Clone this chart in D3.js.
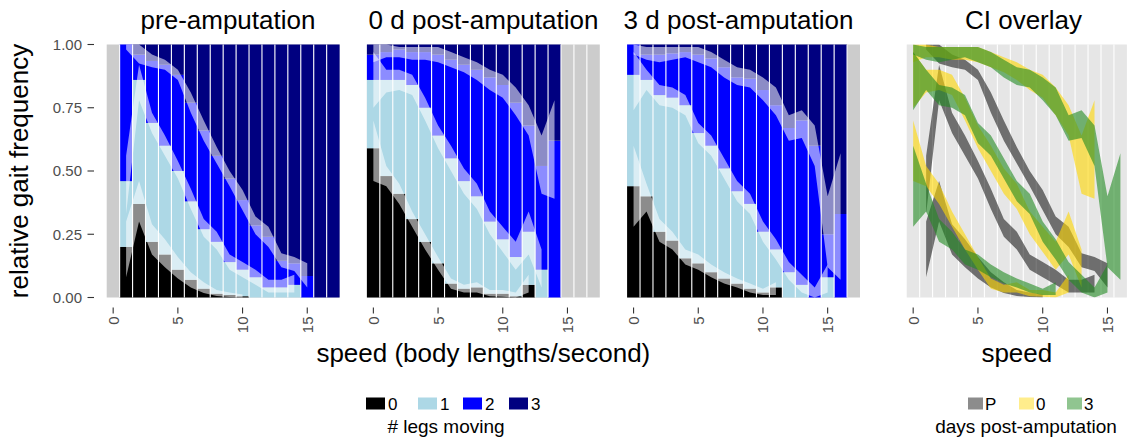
<!DOCTYPE html>
<html>
<head>
<meta charset="utf-8">
<script src="https://cdn.jsdelivr.net/npm/d3@7"></script>
<style>
  body { margin: 0; background: #fff; }
  svg { display: block; font-family: "Liberation Sans", Arial, Helvetica, sans-serif; }
</style>
</head>
<body>
<div id="chart"></div>
<script>
// ---- data ----
var speedBins = [0, 1, 2, 3, 4, 5, 6, 7, 8, 9, 10, 11, 12, 13, 14, 15, 16, 17];
var panelTitles = ["pre-amputation", "0 d post-amputation", "3 d post-amputation", "CI overlay"];
var legLabels = ["0", "1", "2", "3"];
var legColors = ["#000000", "#add8e6", "#0000ff", "#000080"];
var dayLabels = ["P", "0", "3"];
var dayColors = ["#000000", "#ffd700", "#228b22"];
var yTicks = [0, 0.25, 0.5, 0.75, 1];
var xTicks = [0, 5, 10, 15];

// share of strides with at most n legs moving (cumulative), per speed bin
var pre_le0 = [null, .20, .37, .22, .17, .11, .07, .035, .015, .01, .005, 0, 0, 0, 0, 0, 0, 0];
var pre_le1 = [null, .46, .86, .69, .60, .50, .38, .27, .22, .14, .11, .08, .04, .04, .05, 0, 0, 0];
var pre_le2 = [null, 1, .96, .935, .92, .88, .77, .66, .56, .47, .385, .285, .24, .145, .135, .085, 0, 0];
var pre_le0_lo = [null, .08, .30, .17, .12, .075, .04, .018, .006, .002, 0, null, null, null, null, null, null, null];
var pre_le0_hi = [null, .30, .46, .29, .23, .16, .10, .06, .03, .02, .012, null, null, null, null, null, null, null];
var pre_le1_lo = [null, .33, .78, .65, .56, .47, .35, .24, .19, .11, .08, .05, .02, .02, .02, null, null, null];
var pre_le1_hi = [null, .56, .92, .73, .64, .54, .43, .31, .26, .17, .14, .11, .07, .07, .09, null, null, null];
var pre_le2_lo = [null, .98, .925, .91, .90, .86, .73, .62, .53, .44, .345, .25, .20, .12, .105, .04, null, null];
var pre_le2_hi = [null, 1, 1, .96, .94, .90, .81, .70, .595, .50, .425, .32, .28, .175, .16, .135, null, null];

var d0_le0 = [.59, .48, .41, .31, .22, .135, .055, .035, .04, .015, .015, .005, .05, 0, 0, null, null, null];
var d0_le1 = [.86, .86, .86, .84, .75, .64, .55, .46, .40, .30, .23, .16, .26, .11, 0, null, null, null];
var d0_le2 = [.96, .97, .98, .97, .97, .96, .94, .92, .90, .87, .84, .77, .68, .52, .62, null, null, null];
var d0_le0_lo = [.46, .44, .37, .28, .19, .11, .035, .02, .02, .005, .003, 0, .02, null, null, null, null, null];
var d0_le0_hi = [.70, .52, .45, .34, .25, .16, .075, .05, .06, .03, .03, .02, .09, null, null, null, null, null];
var d0_le1_lo = [.75, .81, .82, .80, .70, .59, .50, .41, .35, .25, .18, .11, .17, .04, null, null, null, null];
var d0_le1_hi = [.97, .90, .90, .88, .79, .68, .60, .51, .45, .34, .28, .22, .34, .19, null, null, null, null];
var d0_le2_lo = [.93, .95, .95, .94, .94, .93, .91, .89, .86, .82, .79, .72, .64, .41, .39, null, null, null];
var d0_le2_hi = [1, 1, .99, .99, .99, .99, .97, .95, .93, .90, .88, .83, .76, .64, .78, null, null, null];

var d3_le0 = [.44, .40, .26, .225, .155, .135, .10, .075, .055, .035, .02, .04, 0, 0, 0, 0, 0, null];
var d3_le1 = [.88, .86, .80, .79, .76, .65, .60, .51, .42, .37, .26, .19, .10, .05, 0, .08, 0, null];
var d3_le2 = [1, .96, .96, .965, .97, .96, .945, .91, .87, .865, .82, .76, .67, .70, .60, .25, .33, null];
var d3_le0_lo = [.28, .34, .22, .19, .13, .11, .08, .055, .04, .02, .01, .01, null, null, null, null, null, null];
var d3_le0_hi = [.60, .45, .31, .26, .19, .17, .13, .10, .075, .055, .035, .06, null, null, null, null, null, null];
var d3_le1_lo = [.74, .82, .76, .75, .72, .61, .56, .47, .38, .33, .22, .15, .07, .02, 0, .02, null, null];
var d3_le1_hi = [.97, .90, .84, .83, .80, .69, .64, .55, .46, .41, .30, .23, .14, .09, .04, .13, null, null];
var d3_le2_lo = [.96, .94, .93, .94, .95, .93, .91, .87, .84, .83, .78, .72, .62, .63, .52, .12, .07, null];
var d3_le2_hi = [1, .99, .99, .99, .99, .99, .97, .94, .91, .90, .87, .83, .72, .74, .68, .40, .57, null];

var conditions = [
  { le: [pre_le0, pre_le1, pre_le2], lo: [pre_le0_lo, pre_le1_lo, pre_le2_lo], hi: [pre_le0_hi, pre_le1_hi, pre_le2_hi] },
  { le: [d0_le0, d0_le1, d0_le2], lo: [d0_le0_lo, d0_le1_lo, d0_le2_lo], hi: [d0_le0_hi, d0_le1_hi, d0_le2_hi] },
  { le: [d3_le0, d3_le1, d3_le2], lo: [d3_le0_lo, d3_le1_lo, d3_le2_lo], hi: [d3_le0_hi, d3_le1_hi, d3_le2_hi] }
];

// ---- layout ----
var W = 1130, H = 445;
var panelTop = 44.5, panelBottom = 297.5;
var panels = [
  { x0: 106.7, x1: 339.6, dom: [-0.5, 17.5], titleX: 228 },
  { x0: 366.9, x1: 599.8, dom: [-0.5, 17.5], titleX: 483.5 },
  { x0: 627.1, x1: 860.0, dom: [-0.5, 17.5], titleX: 738.5 },
  { x0: 906.7, x1: 1126.9, dom: [-0.5, 16.5], titleX: 1023.5 }
];
var greyBg = "#cccccc", overlayBg = "#e6e6e6";

var svg = d3.select("#chart").append("svg").attr("width", W).attr("height", H);

var y = d3.scaleLinear().domain([0, 1]).range([panelBottom, panelTop]);

function ribbonData(lo, hi) {
  return speedBins.map(function(k) { return { k: k, lo: lo[k], hi: hi[k] }; });
}

function drawGrid(g, x, dom) {
  var lines = d3.range(dom[0] + 1, dom[1], 1);
  g.selectAll("line.grid").data(lines).enter().append("line")
    .attr("class", "grid")
    .attr("x1", function(d) { return x(d); }).attr("x2", function(d) { return x(d); })
    .attr("y1", panelTop).attr("y2", panelBottom)
    .attr("stroke", "#fff").attr("stroke-width", 1.1);
}

function drawXAxis(g, x) {
  g.selectAll("line.xt").data(xTicks).enter().append("line")
    .attr("x1", function(d) { return x(d); }).attr("x2", function(d) { return x(d); })
    .attr("y1", 307.5).attr("y2", 313.5)
    .attr("stroke", "#333").attr("stroke-width", 1.1);
  g.selectAll("text.xt").data(xTicks).enter().append("text")
    .attr("transform", function(d) { return "translate(" + x(d) + ",316.5) rotate(-90)"; })
    .attr("text-anchor", "end").attr("dominant-baseline", "central")
    .attr("font-size", 15).attr("fill", "#4d4d4d")
    .text(function(d) { return d; });
}

// ---- stacked bar panels ----
conditions.forEach(function(cond, pi) {
  var p = panels[pi];
  var x = d3.scaleLinear().domain(p.dom).range([p.x0, p.x1]);
  var g = svg.append("g");

  g.append("rect").attr("x", p.x0).attr("y", panelTop)
    .attr("width", p.x1 - p.x0).attr("height", panelBottom - panelTop)
    .attr("fill", greyBg);

  var segs = [];
  speedBins.forEach(function(k) {
    if (cond.le[0][k] == null) return;
    var cuts = [0, cond.le[0][k], cond.le[1][k], cond.le[2][k], 1];
    for (var s = 0; s < 4; s++) {
      segs.push({ k: k, s: s, a: cuts[s], b: cuts[s + 1] });
    }
  });
  g.selectAll("rect.bar").data(segs).enter().append("rect")
    .attr("class", "bar")
    .attr("x", function(d) { return x(d.k - 0.5); })
    .attr("width", function(d) { return x(d.k + 0.5) - x(d.k - 0.5); })
    .attr("y", function(d) { return y(d.b); })
    .attr("height", function(d) { return Math.max(0, y(d.a) - y(d.b)); })
    .attr("fill", function(d) { return legColors[d.s]; });

  drawGrid(g, x, p.dom);

  var area = d3.area()
    .defined(function(d) { return d.lo != null && d.hi != null; })
    .x(function(d) { return x(d.k); })
    .y0(function(d) { return y(d.lo); })
    .y1(function(d) { return y(d.hi); });
  for (var b = 0; b < 3; b++) {
    g.append("path").datum(ribbonData(cond.lo[b], cond.hi[b]))
      .attr("d", area).attr("fill", "#fff").attr("fill-opacity", 0.55);
  }

  drawXAxis(g, x);
});

// ---- CI overlay panel ----
(function() {
  var p = panels[3];
  var x = d3.scaleLinear().domain(p.dom).range([p.x0, p.x1]);
  var g = svg.append("g");
  g.append("rect").attr("x", p.x0).attr("y", panelTop)
    .attr("width", p.x1 - p.x0).attr("height", panelBottom - panelTop)
    .attr("fill", overlayBg);
  drawGrid(g, x, p.dom);

  var clipId = "clipOverlay";
  svg.append("clipPath").attr("id", clipId).append("rect")
    .attr("x", p.x0).attr("y", panelTop)
    .attr("width", p.x1 - p.x0).attr("height", panelBottom - panelTop);

  var area = d3.area()
    .defined(function(d) { return d.lo != null && d.hi != null; })
    .x(function(d) { return x(d.k); })
    .y0(function(d) { return y(d.lo); })
    .y1(function(d) { return y(d.hi); });
  var alphas = [0.52, 0.6, 0.6];
  conditions.forEach(function(cond, ci) {
    for (var b = 0; b < 3; b++) {
      g.append("path").datum(ribbonData(cond.lo[b], cond.hi[b]))
        .attr("clip-path", "url(#" + clipId + ")")
        .attr("d", area).attr("fill", dayColors[ci]).attr("fill-opacity", alphas[ci]);
    }
  });
  drawXAxis(g, x);
})();

// ---- y axis ----
svg.selectAll("line.yt").data(yTicks).enter().append("line")
  .attr("x1", 87.5).attr("x2", 94)
  .attr("y1", function(d) { return y(d); }).attr("y2", function(d) { return y(d); })
  .attr("stroke", "#333").attr("stroke-width", 1.1);
svg.selectAll("text.yt").data(yTicks).enter().append("text")
  .attr("x", 82).attr("y", function(d) { return y(d); })
  .attr("dy", "0.35em").attr("text-anchor", "end")
  .attr("font-size", 15).attr("fill", "#4d4d4d")
  .text(function(d) { return d3.format(".2f")(d); });

// ---- titles ----
svg.selectAll("text.ptitle").data(panels).enter().append("text")
  .attr("x", function(d) { return d.titleX; }).attr("y", 29)
  .attr("text-anchor", "middle").attr("font-size", 26).attr("fill", "#000")
  .text(function(d, i) { return panelTitles[i]; });

svg.append("text")
  .attr("transform", "translate(28," + ((panelTop + panelBottom) / 2) + ") rotate(-90)")
  .attr("text-anchor", "middle").attr("font-size", 26)
  .text("relative gait frequency");
svg.append("text").attr("x", (panels[0].x0 + panels[2].x1) / 2).attr("y", 362)
  .attr("text-anchor", "middle").attr("font-size", 26)
  .text("speed (body lengths/second)");
svg.append("text").attr("x", (panels[3].x0 + panels[3].x1) / 2).attr("y", 362)
  .attr("text-anchor", "middle").attr("font-size", 26)
  .text("speed");

// ---- legends ----
var leg1X = [366, 418, 463, 509];
var l1 = svg.append("g");
l1.selectAll("rect").data(legLabels).enter().append("rect")
  .attr("x", function(d, i) { return leg1X[i]; }).attr("y", 397.5)
  .attr("width", 19).attr("height", 12)
  .attr("fill", function(d, i) { return legColors[i]; });
l1.selectAll("text").data(legLabels).enter().append("text")
  .attr("x", function(d, i) { return leg1X[i] + 22; }).attr("y", 409.5)
  .attr("font-size", 17).text(function(d) { return d; });
svg.append("text").attr("x", 446).attr("y", 433).attr("text-anchor", "middle")
  .attr("font-size", 19).text("# legs moving");

var leg2X = [968, 1019, 1067];
var l2 = svg.append("g");
l2.selectAll("rect").data(dayLabels).enter().append("rect")
  .attr("x", function(d, i) { return leg2X[i]; }).attr("y", 397.5)
  .attr("width", 15).attr("height", 12)
  .attr("fill", function(d, i) { return dayColors[i]; })
  .attr("fill-opacity", function(d, i) { return [0.45, 0.45, 0.5][i]; });
l2.selectAll("text").data(dayLabels).enter().append("text")
  .attr("x", function(d, i) { return leg2X[i] + 17; }).attr("y", 409.5)
  .attr("font-size", 17).text(function(d) { return d; });
svg.append("text").attr("x", 1026).attr("y", 433).attr("text-anchor", "middle")
  .attr("font-size", 19).text("days post-amputation");
</script>
</body>
</html>
